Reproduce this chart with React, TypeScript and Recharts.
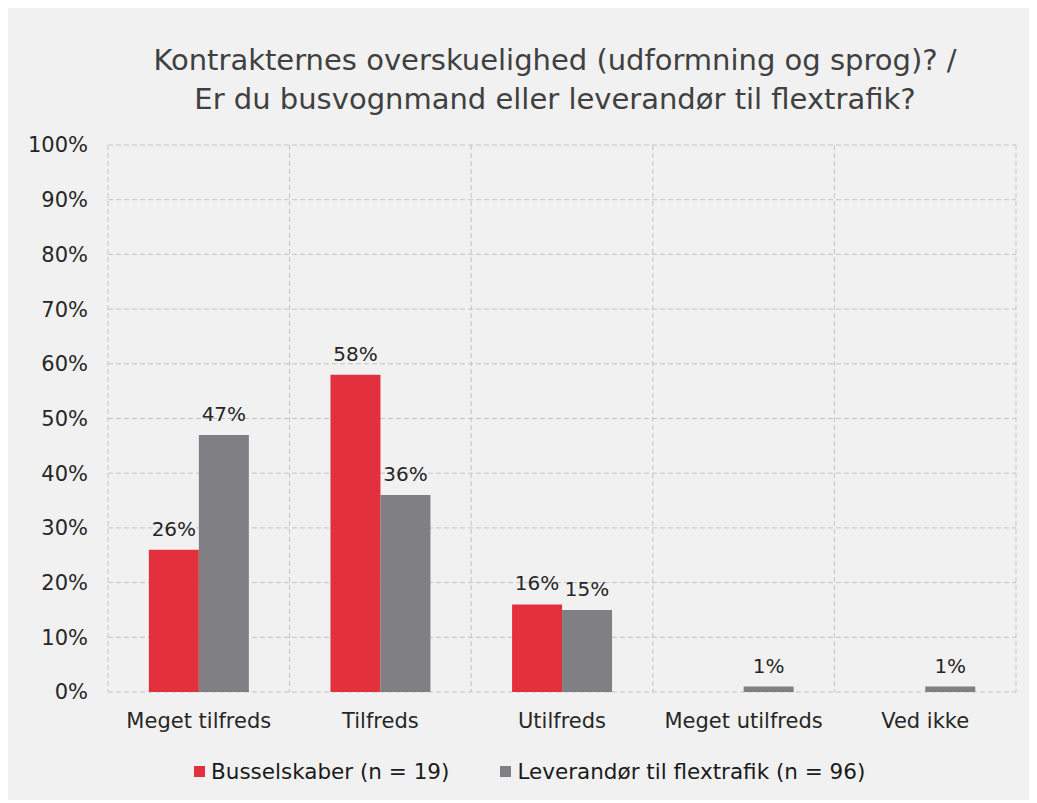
import { Bar, BarChart, CartesianGrid, LabelList, Legend, XAxis, YAxis } from "recharts";

const categories = ["Meget tilfreds", "Tilfreds", "Utilfreds", "Meget utilfreds", "Ved ikke"];
const busselskaber = [26, 58, 16, 0, 0];
const leverandoer = [47, 36, 15, 1, 1];
const yTicks = [0, 10, 20, 30, 40, 50, 60, 70, 80, 90, 100];

const seriesNames = {
  bus: "Busselskaber (n = 19)",
  lev: "Leverandør til flextrafik (n = 96)",
};

const data = categories.map((name, i) => ({
  name,
  bus: busselskaber[i],
  lev: leverandoer[i],
}));

const RED = "#e3303d";
const GRAY = "#808084";
const FONT = "'DejaVu Sans', Verdana, sans-serif";

function pct(value: unknown): string {
  const n = Number(value);
  if (!n) return "";
  return `${n}%`;
}

function LegendContent({ payload }: { payload?: any[] }) {
  return (
    <div style={{ display: "flex", alignItems: "center", fontFamily: FONT, fontSize: 21.5, color: "#1a1a1a", whiteSpace: "nowrap" }}>
      {(payload ?? []).map((entry, i) => (
        <div key={entry.value} style={{ display: "flex", alignItems: "center", marginRight: i === 0 ? 51 : 0 }}>
          <span style={{ width: 11, height: 11, background: entry.color, marginRight: 6, display: "inline-block" }} />
          <span>{entry.value}</span>
        </div>
      ))}
    </div>
  );
}

export default function App() {
  return (
    <div style={{ position: "relative", width: 1022, height: 792, background: "#f1f1f1" }}>
      <div
        style={{
          position: "absolute",
          left: 0,
          top: 33,
          width: 1094,
          textAlign: "center",
          fontFamily: FONT,
          fontSize: 29,
          lineHeight: "39px",
          color: "#404040",
        }}
      >
        <div>Kontrakternes overskuelighed (udformning og sprog)? /</div>
        <div>Er du busvognmand eller leverandør til flextrafik?</div>
      </div>
      <BarChart
        width={1022}
        height={792}
        data={data}
        margin={{ top: 137, right: 14, bottom: 53, left: 0 }}
        barCategoryGap="22.5%"
        barGap={0}
        style={{ position: "absolute", left: 0, top: 0 }}
      >
        <CartesianGrid
          stroke="#c4c4c4"
          strokeDasharray="5 3"
          verticalCoordinatesGenerator={({ offset }: any) =>
            categories.concat([""]).map((_, i) => offset.left + (i * offset.width) / categories.length)
          }
        />
        <XAxis
          dataKey="name"
          axisLine={false}
          tickLine={false}
          tickMargin={15}
          tick={{ fill: "#262626", fontSize: 21, fontFamily: FONT }}
          interval={0}
        />
        <YAxis
          width={100}
          domain={[0, 100]}
          ticks={yTicks}
          tickFormatter={(v) => `${v}%`}
          axisLine={false}
          tickLine={false}
          tickMargin={14}
          tick={{ fill: "#262626", fontSize: 21, fontFamily: FONT }}
        />
        <Legend
          content={<LegendContent />}
          wrapperStyle={{ left: 186, top: 751, width: "auto" }}
        />
        <Bar dataKey="bus" name={seriesNames.bus} fill={RED} isAnimationActive={false}>
          <LabelList dataKey="bus" position="top" offset={14} formatter={pct} fill="#262626" fontSize={20} fontFamily={FONT} />
        </Bar>
        <Bar dataKey="lev" name={seriesNames.lev} fill={GRAY} isAnimationActive={false}>
          <LabelList dataKey="lev" position="top" offset={14} formatter={pct} fill="#262626" fontSize={20} fontFamily={FONT} />
        </Bar>
      </BarChart>
    </div>
  );
}
